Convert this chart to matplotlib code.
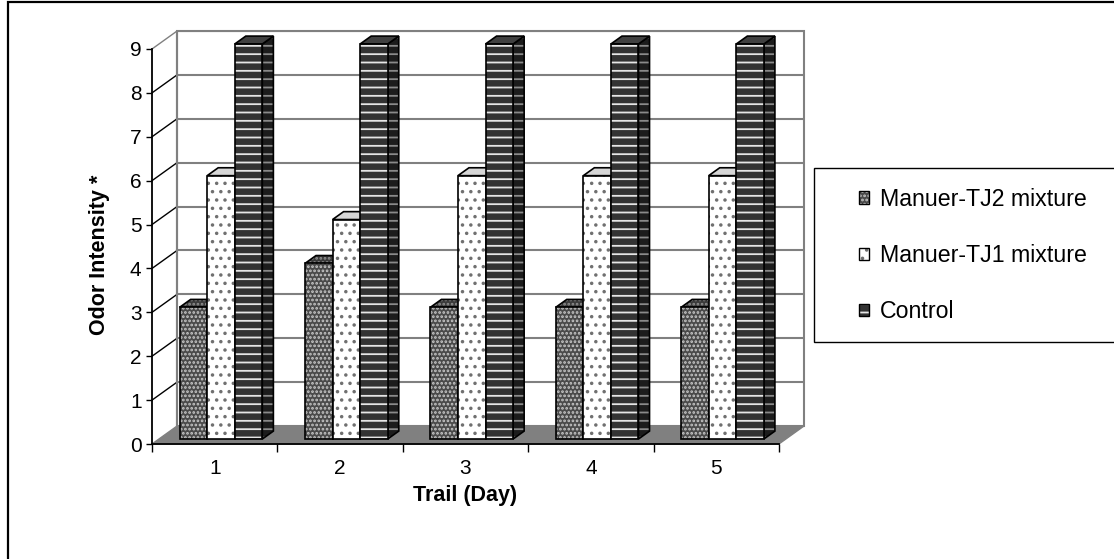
import matplotlib
matplotlib.use('Agg')
import matplotlib.pyplot as plt
from matplotlib.patches import Polygon, Rectangle, Patch
from matplotlib.legend_handler import HandlerTuple

plt.rcParams['font.family'] = ['Liberation Sans', 'DejaVu Sans']

days = ['1', '2', '3', '4', '5']
series = ['Manuer-TJ2 mixture', 'Manuer-TJ1 mixture', 'Control']
tj2 = [3, 4, 3, 3, 3]
tj1 = [6, 5, 6, 6, 6]
control = [9, 9, 9, 9, 9]
values = [tj2, tj1, control]

# pseudo 3d look (offsets in data units)
wall_dx, wall_dy = 0.2, 0.41
off_dx, off_dy = 0.05, 0.114
bd_dx, bd_dy = 0.088, 0.18
w = 0.22

# face styles: (front, top, side) -> (facecolor, hatch, hatchcolor)
styles = [
    [('#4a4a4a', '....', '#c8c8c8'), ('#3a3a3a', '....', '#909090'), ('#2a2a2a', '....', '#808080')],
    [('white', '..', '#707070'), ('#d6d6d6', None, None), ('#d0d0d0', '..', '#707070')],
    [('#333333', '--', '#e6e6e6'), ('#404040', None, None), ('#1c1c1c', '--', '#8a8a8a')],
]


def face(ax, pts, fc, hatch, hc, z):
    ax.add_patch(Polygon(pts, closed=True, facecolor=fc, edgecolor='none', zorder=z, clip_on=False))
    if hatch:
        ax.add_patch(Polygon(pts, closed=True, fill=False, hatch=hatch, edgecolor=hc, lw=0, zorder=z, clip_on=False))
    ax.add_patch(Polygon(pts, closed=True, fill=False, edgecolor='black', lw=1.2, zorder=z, clip_on=False))


def draw_bar(ax, x0, v, st, z):
    y0 = off_dy
    x1 = x0 + w
    front = [(x0, y0), (x1, y0), (x1, y0 + v), (x0, y0 + v)]
    top = [(x0, y0 + v), (x1, y0 + v), (x1 + bd_dx, y0 + v + bd_dy), (x0 + bd_dx, y0 + v + bd_dy)]
    side = [(x1, y0), (x1 + bd_dx, y0 + bd_dy), (x1 + bd_dx, y0 + v + bd_dy), (x1, y0 + v)]
    face(ax, side, *st[2], z)
    face(ax, top, *st[1], z)
    face(ax, front, *st[0], z + 0.1)


plt.rcParams['hatch.linewidth'] = 1.3
fig = plt.figure(figsize=(11.14, 5.59), dpi=100)
W, H = 1114, 559
ax = fig.add_axes([152 / W, (H - 444) / H, 652 / W, 413 / H])
ax.set_xlim(0, len(days) + wall_dx)
ax.set_ylim(0, 9 + wall_dy)
ax.patch.set_visible(False)

n = len(days)
# floor
ax.add_patch(Polygon([(0, 0), (n, 0), (n + wall_dx, wall_dy), (wall_dx, wall_dy)],
                     facecolor='#808080', edgecolor='#808080', lw=1, zorder=1, clip_on=False))
# back wall
ax.add_patch(Rectangle((wall_dx, wall_dy), n, 9, facecolor='white', edgecolor='#808080', lw=1.5,
                       zorder=0.5, clip_on=False))
for k in range(1, 10):
    ax.plot([wall_dx, n + wall_dx], [k + wall_dy, k + wall_dy], color='#808080', lw=1.5, zorder=0.6)
    ax.plot([0, wall_dx], [k, k + wall_dy], color='black' if k < 9 else '#808080', lw=1, zorder=0.6,
            clip_on=False)
ax.plot([wall_dx, wall_dx], [wall_dy, 9 + wall_dy], color='#808080', lw=1.5, zorder=0.6)

# bars, left to right
z = 2
for i in range(n):
    start = i + 0.5 + off_dx - 1.5 * w
    for s in range(3):
        draw_bar(ax, start + s * w, values[s][i], styles[s], z)
        z += 1

for side in ['top', 'right']:
    ax.spines[side].set_visible(False)
ax.spines['left'].set_bounds(0, 9)
ax.spines['bottom'].set_bounds(0, n)
ax.spines['left'].set_linewidth(1.3)
ax.spines['bottom'].set_linewidth(1.3)
ax.spines['bottom'].set_zorder(100)
ax.set_yticks(range(10))
ax.set_xticks(range(n + 1))
ax.set_xticklabels([])
ax.set_xticks([i + 0.5 for i in range(n)], minor=True)
ax.set_xticklabels(days, minor=True)
ax.tick_params(axis='y', length=4.5, width=1, labelsize=15, pad=3)
ax.tick_params(axis='x', which='major', length=6, width=1)
ax.tick_params(axis='x', which='minor', length=0, labelsize=15, pad=11)

fig.text(100 / W, 1 - 255 / H, 'Odor Intensity *', rotation=90, ha='center', va='center',
         fontsize=15.5, fontweight='bold')
fig.text(465 / W, 1 - 495 / H, 'Trail (Day)', ha='center', va='center', fontsize=15.5, fontweight='bold')

# legend
fig.patches.append(Rectangle((814 / W, 1 - 342 / H), 400 / W, 174 / H, transform=fig.transFigure,
                             facecolor='white', edgecolor='black', lw=1))
handles = []
for s in range(3):
    fc, hatch, hc = styles[s][0]
    parts = [Patch(facecolor=fc, edgecolor='none')]
    if hatch:
        parts.append(Patch(fill=False, hatch=hatch, edgecolor=hc, lw=0))
    parts.append(Patch(fill=False, edgecolor='black', lw=1))
    handles.append(tuple(parts))
fig.legend(handles, series, handler_map={tuple: HandlerTuple(ndivide=1, pad=0)},
           loc='upper left', bbox_to_anchor=(838 / W, 1 - 167 / H), frameon=False,
           fontsize=16.7, handlelength=0.45, handleheight=0.45, handletextpad=0.45, labelspacing=1.43)

# outer frame
fig.patches.append(Rectangle((8 / W, -0.1), 1.2, 1.1 - 2 / H, transform=fig.transFigure,
                             fill=False, edgecolor='black', lw=1.6))

fig.savefig('out.png', dpi=100)
